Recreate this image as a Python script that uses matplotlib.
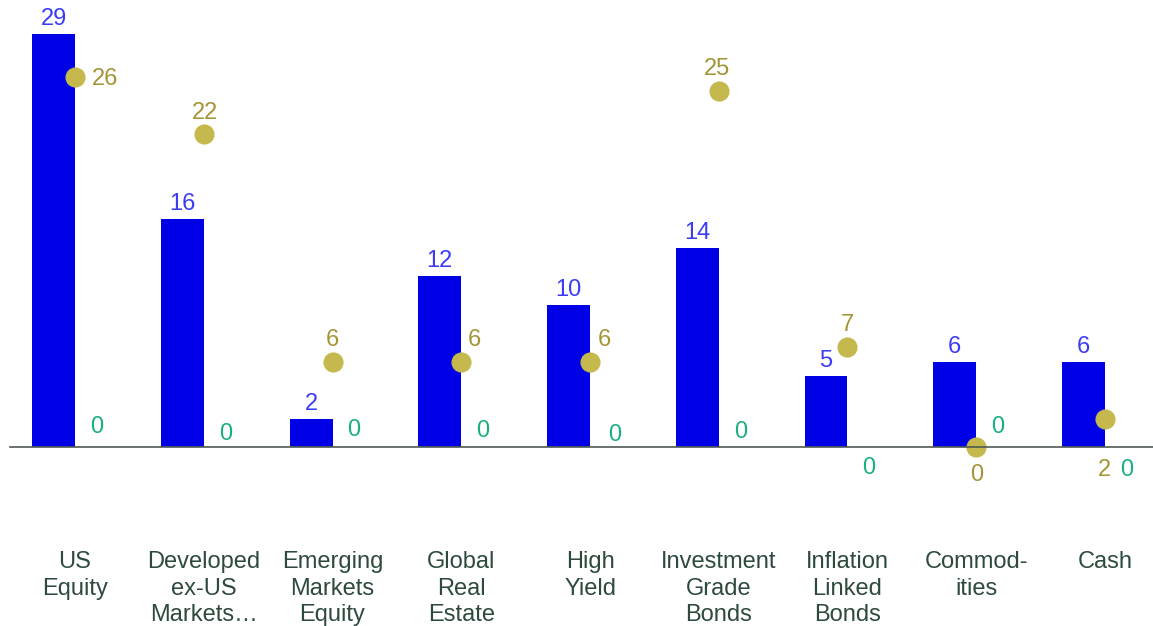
import matplotlib.pyplot as plt
import numpy as np

plt.rcParams['font.family'] = ['Liberation Sans', 'DejaVu Sans']

categories = ['US\nEquity', 'Developed\nex-US\nMarkets…', 'Emerging\nMarkets\nEquity',
              'Global\nReal\nEstate', 'High\nYield', 'Investment\nGrade\nBonds',
              'Inflation\nLinked\nBonds', 'Commod-\nities', 'Cash']
bar_vals = [29, 16, 2, 12, 10, 14, 5, 6, 6]
dot_vals = [26, 22, 6, 6, 6, 25, 7, 0, 2]
third_vals = [0, 0, 0, 0, 0, 0, 0, 0, 0]

# label offsets in pixels (dx, dy), chosen to mimic the original label placement
dot_off = [(30, -2), (1, 21), (0, 22), (13, 22), (14, 22), (-2, 22), (0, 22), (0, -28), (-1, -51)]
third_off = [(0, 20), (0, 13), (0, 17), (0, 16), (3, 12), (0, 15), (0, -21), (0, 20), (0, -23)]

blue = '#0000e6'
blue_txt = '#3c3cf5'
gold = '#c5b84c'
gold_txt = '#a39537'
green = '#1aae85'

fig = plt.figure(figsize=(11.53, 6.26), dpi=100)
ax = fig.add_axes([0, 0, 1, 1])
x = np.arange(len(categories))
w = 1 / 3

ax.bar(x - w / 2, bar_vals, width=w, color=blue, zorder=2)
for xi, v in zip(x, bar_vals):
    ax.annotate(str(v), (xi - w / 2, v), xytext=(0, 15), textcoords='offset pixels',
                ha='center', va='center', fontsize=17, color=blue_txt)

ax.plot(x, dot_vals, 'o', ms=13.5, color=gold, zorder=3, linestyle='none')
for xi, v, (dx, dy) in zip(x, dot_vals, dot_off):
    ax.annotate(str(v), (xi, v), xytext=(dx, dy), textcoords='offset pixels',
                ha='center', va='center', fontsize=17, color=gold_txt)

for xi, v, (dx, dy) in zip(x, third_vals, third_off):
    ax.annotate(str(v), (xi + w / 2, v), xytext=(dx, dy), textcoords='offset pixels',
                ha='center', va='center', fontsize=17, color=green)

ax.axhline(0, xmin=10 / 1153, xmax=1, color='#505a55', lw=1.2, zorder=4)

for xi, lab in zip(x, categories):
    ax.text(xi, -7.3, lab, ha='center', va='top', fontsize=17,
            color='#2e4a3c', linespacing=1.27)

ax.set_xlim(-0.583, 8.373)
ax.set_ylim(-12.57, 31.39)
ax.axis('off')

fig.savefig('out.png', dpi=100)
